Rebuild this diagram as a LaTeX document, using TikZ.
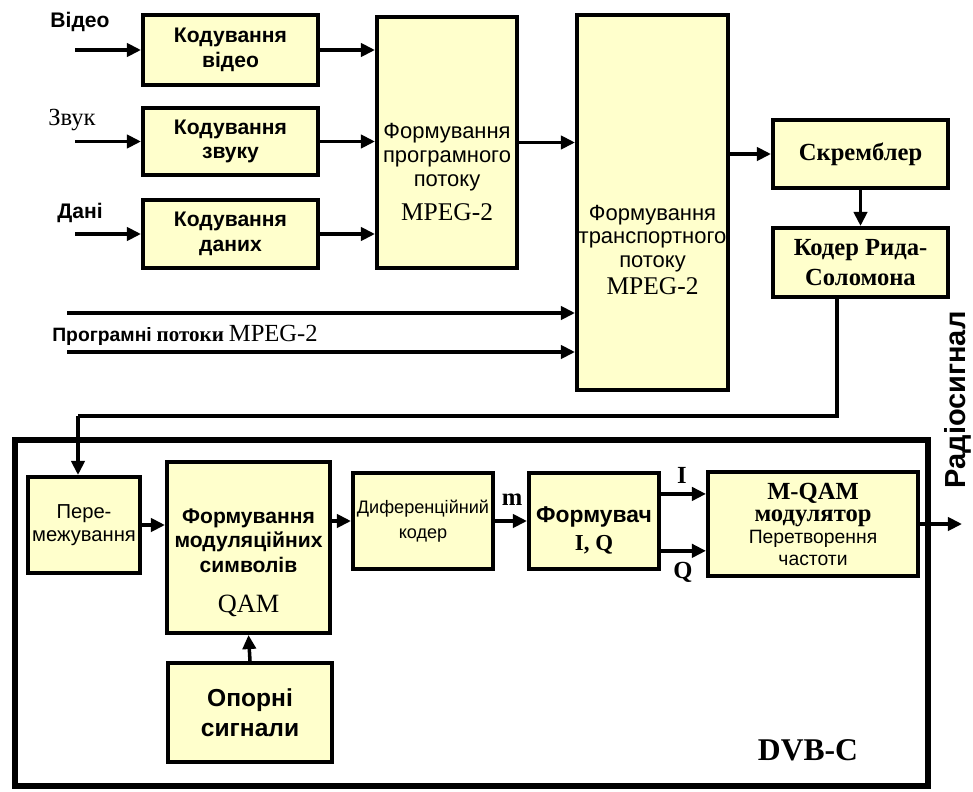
\documentclass[tikz,border=0pt]{standalone}
\usepackage{fontspec}
\setmainfont{Liberation Sans}
\newfontfamily\tms{Liberation Serif}
\usetikzlibrary{arrows.meta}
\definecolor{boxfill}{RGB}{255,255,204}

\begin{document}
\begin{tikzpicture}[x=0.02cm, y=-0.02cm,
		blk/.style={draw, line width=2.3pt, fill=boxfill, inner sep=0pt, align=center},
		arr/.style={line width=2pt, -{Triangle[length=8pt,width=7.5pt]}},
		lnk/.style={line width=2pt},
		sb/.style={font=\bfseries\fontsize{12}{14}\selectfont},
		sr/.style={align=center, font=\fontsize{12.5}{13.5}\selectfont},
		tb/.style={font=\tms\bfseries\fontsize{14}{17.5}\selectfont}]
			%%%%% START %%%%%
			\useasboundingbox (0,0) rectangle (973,791);
			
			% input coders
			\node[blk, sb, minimum width=3.5cm, minimum height=1.4cm] (kv) at (230.5,50) {Кодування\\відео};
			\node[blk, sb, minimum width=3.5cm, minimum height=1.34cm] (kz) at (230.5,141.5) {Кодування\\звуку};
			\node[blk, sb, minimum width=3.5cm, minimum height=1.36cm] (kd) at (230.5,234) {Кодування\\даних};
			
			\node[sb] (lv) at (80,22) {Відео};
			\node[font=\tms\fontsize{14}{16}\selectfont] (lz) at (72,120) {Звук};
			\node[sb] (ld) at (80,213) {Дані};
			
			\coordinate (inv) at (75,50);
			\coordinate (inz) at (75,141.5);
			\coordinate (ind) at (75,234);
			\draw[arr] (inv) -- (kv.west);
			\draw[arr] (inz) -- (kz.west);
			\draw[arr] (ind) -- (kd.west);
			
			% program and transport streams
			\node[blk, minimum width=2.8cm, minimum height=5.02cm] (pp) at (447,142.5) {};
			\node[sr] (pptxt) at (447,172) {Формування\\програмного\\потоку\\[6pt]{\tms\fontsize{14.5}{16}\selectfont MPEG-2}};
			\node[blk, minimum width=3.02cm, minimum height=7.5cm] (tp) at (652.5,202.5) {};
			\node[sr] (tptxt) at (652.5,250) {Формування\\транспортного\\потоку\\[2pt]{\tms\fontsize{14.5}{16}\selectfont MPEG-2}};
			
			\draw[arr] (kv.east) -- (kv.east -| pp.west);
			\draw[arr] (kz.east) -- (kz.east -| pp.west);
			\draw[arr] (kd.east) -- (kd.east -| pp.west);
			\draw[arr] (pp.east) -- (pp.east -| tp.west);
			
			\coordinate (ins1) at (67,313);
			\coordinate (ins2) at (67,352);
			\draw[arr] (ins1) -- (ins1 -| tp.west);
			\draw[arr] (ins2) -- (ins2 -| tp.west);
			\node[anchor=west, inner sep=0pt] (lps) at (52,335) {{\bfseries\fontsize{11}{13}\selectfont Програмні} {\tms\bfseries\fontsize{12}{14}\selectfont потоки} {\tms\fontsize{14}{16}\selectfont MPEG-2}};
			
			% channel coding
			\node[blk, tb, minimum width=3.5cm, minimum height=1.36cm] (scr) at (860.5,154) {Скремблер};
			\node[blk, tb, minimum width=3.5cm, minimum height=1.38cm] (rs) at (860.5,262.5) {Кодер Рида-\\Соломона};
			\draw[arr] (scr.west -| tp.east) -- (scr.west);
			\draw[arr] (scr.south) -- (rs.north);
			
			% DVB-C modulator
			\draw[line width=3.3pt] (15,440) rectangle (928,786);
			\node[font=\tms\bfseries\fontsize{18}{20}\selectfont] (dvb) at (808,750) {DVB-C};
			
			\node[blk, font=\fontsize{11.5}{13.5}\selectfont, minimum width=2.24cm, minimum height=1.92cm] (il) at (84,525) {Пере-\\межування};
			\node[blk, minimum width=3.26cm, minimum height=3.42cm] (qs) at (248.5,547.5) {};
			\node[sb, align=center] (qstxt) at (248.5,563) {Формування\\модуляційних\\символів\\[9pt]{\tms\mdseries\fontsize{15}{17}\selectfont QAM}};
			\node[blk, font=\fontsize{10.3}{14}\selectfont, minimum width=2.8cm, minimum height=1.92cm] (dc) at (423,521) {Диференційний\\кодер};
			\node[blk, font=\bfseries\fontsize{14}{17}\selectfont, minimum width=3.28cm, minimum height=1.98cm] (op) at (250,712.5) {Опорні\\сигнали};
			\node[blk, minimum width=2.6cm, minimum height=1.92cm] (iq) at (594,521) {};
			\node[align=center, font=\bfseries\fontsize{13}{16}\selectfont] (iqtxt) at (594,530) {Формувач\\{\tms I, Q}};
			\node[blk, font=\fontsize{11}{12.5}\selectfont, minimum width=4.2cm, minimum height=2.08cm] (mq) at (813,524) {{\tms\bfseries\fontsize{14}{14}\selectfont M-QAM}\\{\tms\bfseries\fontsize{14}{14}\selectfont модулятор}\\Перетворення\\частоти};
			
			\coordinate (bend) at (837,416);
			\coordinate (drop) at (78,416);
			\draw[lnk] (rs.south -| bend) -- (bend) -- (drop);
			\draw[arr] (drop) -- (drop |- il.north);
			
			\draw[arr] (il.east) -- (il.east -| qs.west);
			\draw[arr] (dc.west -| qs.east) -- (dc.west);
			\draw[arr] (op.north) -- (qs.south);
			\draw[arr] (dc.east) -- (iq.west);
			\draw[arr] (iq.22) -- (iq.22 -| mq.west);
			\draw[arr] (iq.-24) -- (iq.-24 -| mq.west);
			
			\node[font=\tms\bfseries\fontsize{14}{16}\selectfont] (lm) at (512,500) {m};
			\node[font=\tms\bfseries\fontsize{14}{16}\selectfont] (li) at (682,475) {I};
			\node[font=\tms\bfseries\fontsize{14}{16}\selectfont] (lq) at (683,572) {Q};
			
			\coordinate (rout) at (962,524);
			\draw[arr] (mq.east) -- (rout);
			\node[rotate=90, inner sep=0pt, font=\bfseries\fontsize{16.5}{19}\selectfont] (lrad) at (958,400) {Радіосигнал};
			%%%%% END %%%%%
		\end{tikzpicture}
\end{document}
